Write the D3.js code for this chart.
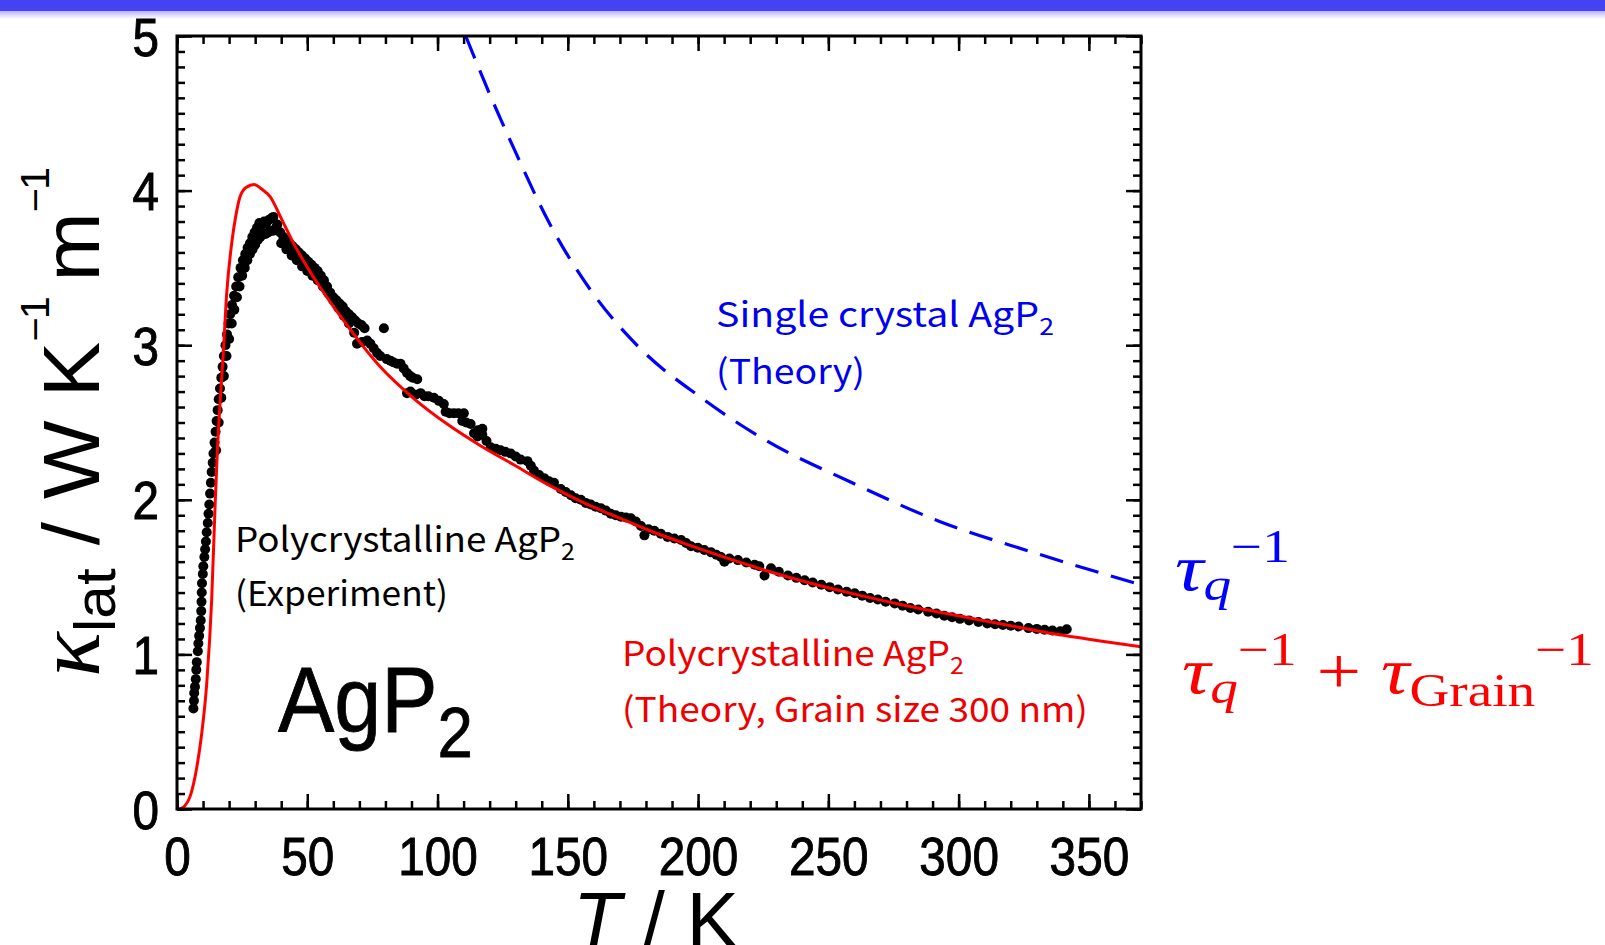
<!DOCTYPE html>
<html>
<head>
<meta charset="utf-8">
<script src="https://cdn.jsdelivr.net/npm/d3@7"></script>
<style>
  body { margin: 0; background: #fff; overflow: hidden; }
</style>
</head>
<body>
<svg id="chart" width="1605" height="945"></svg>
<script>
// ---- data ----
const xTicks = [0, 50, 100, 150, 200, 250, 300, 350];
const yTicks = [0, 1, 2, 3, 4, 5];

// experiment: [T (K), kappa_lat]
const expPoints = [
  [6.3,0.65],[6.5,0.70],[6.6,0.75],[6.9,0.79],[7.2,0.84],[7.4,0.90],[7.6,0.95],[8.0,1.02],[8.2,1.07],[8.5,1.12],
  [8.8,1.17],[9.1,1.22],[9.3,1.28],[9.4,1.34],[9.5,1.40],[9.6,1.46],[9.9,1.52],[10.1,1.57],[10.5,1.63],[10.8,1.68],
  [11.1,1.73],[11.4,1.79],[11.8,1.85],[12.1,1.91],[12.4,1.97],[12.7,2.04],[13.0,2.11],[13.3,2.18],[13.7,2.24],[14.0,2.30],
  [14.4,2.37],[14.8,2.44],[15.2,2.51],[15.6,2.58],[16.0,2.65],[16.5,2.72],[17.0,2.79],[17.5,2.86],[18.0,2.93],[18.6,3.00],
  [19.2,3.07],[19.8,3.14],[20.4,3.20],[21.1,3.26],[21.9,3.32],[22.7,3.38],[23.5,3.44],[24.4,3.50],[25.3,3.55],[26.2,3.59],
  [27.1,3.63],[28.0,3.66],[28.9,3.70],[29.8,3.73],[30.7,3.76],[31.6,3.79],[32.5,3.78],[33.4,3.80],[34.3,3.79],[35.2,3.81],
  [36.1,3.82],[37.0,3.83],
  [15.0,2.32],[16.0,2.50],[17.0,2.66],[18.0,2.80],[19.0,2.93],[20.0,3.04],[21.0,3.14],[22.0,3.23],[23.0,3.31],[24.0,3.38],
  [25.0,3.45],[26.0,3.50],[27.0,3.55],[28.0,3.59],[29.0,3.62],[30.0,3.65],[31.0,3.68],[32.0,3.70],[33.0,3.72],[34.0,3.72],
  [35.0,3.73],[36.0,3.74],[37.0,3.74],[38.0,3.76],
  [38.5,3.78],[39.6,3.73],[40.8,3.70],[42.0,3.68],[43.2,3.66],[44.4,3.64],[45.6,3.62],[46.8,3.60],[48.0,3.58],[49.2,3.56],
  [50.4,3.54],[51.6,3.52],[52.8,3.50],[54.0,3.48],[55.2,3.45],[56.4,3.42],[57.6,3.38],[58.8,3.34],[60.0,3.31],[61.2,3.29],
  [62.4,3.27],[63.6,3.25],[64.8,3.22],[66.0,3.20],[67.2,3.18],[68.4,3.16],[69.6,3.14],[70.8,3.13],[72.0,3.11],
  [40,3.66],[42,3.62],[44,3.58],[46,3.55],[48,3.51],[50,3.48],[52,3.45],[54,3.42],[56,3.38],[58,3.34],
  [60,3.29],[62,3.24],[64,3.19],[66,3.14],[68,3.08],[69.1,3.01],[71,3.02],[73,3.03],[74.2,3.01],[75.5,2.98],
  [76.8,2.95],[78,2.93],[79.4,3.11],[80.5,2.91],[81.9,2.90],[83,2.89],[84.5,2.88],[85.8,2.88],[87,2.85],[88.3,2.82],
  [89.5,2.80],[90.5,2.79],[92.2,2.78],[88.3,2.69],[89.6,2.70],[91.5,2.68],[93.5,2.69],[95,2.67],[96.5,2.67],[98.6,2.66],[100.5,2.64],
  [102.4,2.62],[103.1,2.57],[104.6,2.56],[106.3,2.56],[108,2.56],[110.1,2.56],[109.5,2.51],[111,2.50],[112.7,2.49],[114,2.43],
  [115.5,2.45],[117.2,2.46],[115.3,2.41],[117.2,2.42],[118.8,2.38],[120.4,2.34],[122.3,2.33],[124.2,2.32],[126,2.31],[128.1,2.30],[130,2.28],
  [131.9,2.26],[134.5,2.25],[135.8,2.22],[137,2.19],[139,2.16],[140.9,2.14],[142.8,2.12],[144.7,2.11],[147.3,2.07],[149.2,2.05],
  [151.2,2.03],[153,2.01],[155,2.00],[156.9,1.98],[158.8,1.97],[160.7,1.955],[162.7,1.945],[164.6,1.93],[166.5,1.91],[168.4,1.90],
  [170.4,1.89],[172.3,1.885],[174.2,1.88],[176.1,1.86],[178.1,1.83],[179.4,1.77],[181,1.81],[183.2,1.80],[185.7,1.78],[188.3,1.76],
  [190.9,1.75],[193.5,1.74],[195.4,1.72],[197.3,1.70],[199.9,1.69],[202.4,1.675],[205,1.66],[207,1.645],[208.8,1.63],[210.1,1.60],
  [212,1.62],[215.3,1.61],[218.5,1.595],[221.7,1.58],[223.5,1.57],[225.5,1.51],[228,1.557],[231,1.535],[234.5,1.51],[237.7,1.495],
  [240.9,1.48],[244,1.465],[247.3,1.45],[250.5,1.435],[253.7,1.42],[257,1.405],[260.1,1.395],[263,1.38],[266,1.365],[269,1.355],
  [272,1.34],[275.5,1.33],[278.5,1.315],[281.5,1.30],[284.5,1.29],[288.3,1.276],[291.5,1.265],[294.5,1.25],[297.5,1.24],[300.5,1.23],
  [304,1.22],[307.6,1.21],[311,1.20],[314,1.195],[317,1.19],[320,1.185],[323,1.18],[326.8,1.17],[330,1.165],[333,1.16],
  [336,1.155],[339,1.15],[341.5,1.163]
];

// theory, polycrystal (grain 300 nm)
const redT = [1, 3, 5, 7.6, 9.5, 11.4, 13.3, 14.6, 15.5, 16.5, 17.6, 19.1, 21, 22.5, 24.2, 26.5, 29.6, 32.5, 35.8, 40,
  44.7, 52.4, 63.9, 78, 90.9, 103.7, 116.5, 129.4, 142.2, 155, 166.5, 183, 196, 208, 221.7, 240, 260.1, 280, 300, 320,
  339.6, 355, 370];
const redK = [0, 0.02, 0.08, 0.27, 0.49, 0.81, 1.35, 1.95, 2.32, 2.62, 2.9, 3.34, 3.66, 3.83, 3.96, 4.02, 4.04, 4.01, 3.96, 3.82,
  3.66, 3.44, 3.16, 2.86, 2.655, 2.49, 2.35, 2.225, 2.1, 1.99, 1.905, 1.79, 1.71, 1.64, 1.565, 1.475, 1.39, 1.315, 1.25, 1.185,
  1.125, 1.085, 1.05];

// theory, single crystal
const blueT = [110.8, 118.6, 129.9, 142.9, 158.6, 177.7, 200.4, 226.5, 257.9, 292.7, 327.6, 370];
const blueK = [5.0, 4.68, 4.25, 3.79, 3.36, 2.98, 2.67, 2.38, 2.12, 1.86, 1.665, 1.45];

// ---- layout ----
const margin = { top: 36, left: 177 };
const plotW = 964, plotH = 773;
const svg = d3.select('#chart');

// banner strip at the top
const defs = svg.append('defs');
const grad = defs.append('linearGradient').attr('id', 'fade').attr('x1', 0).attr('x2', 0).attr('y1', 0).attr('y2', 1);
grad.append('stop').attr('offset', '0%').attr('stop-color', '#b9b2ff');
grad.append('stop').attr('offset', '100%').attr('stop-color', '#ffffff');
svg.append('rect').attr('x', 0).attr('y', 0).attr('width', 1605).attr('height', 11).attr('fill', '#4741f4');
svg.append('rect').attr('x', 0).attr('y', 11).attr('width', 1605).attr('height', 8).attr('fill', 'url(#fade)');

defs.append('clipPath').attr('id', 'plotClip')
  .append('rect').attr('x', margin.left).attr('y', margin.top).attr('width', plotW).attr('height', plotH);

const x = d3.scaleLinear().domain([0, 370]).range([margin.left, margin.left + plotW]);
const y = d3.scaleLinear().domain([0, 5]).range([margin.top + plotH, margin.top]);

const tickFont = 'Liberation Sans, Arial, sans-serif';
const sx = 0.9;

function styleAxis(g) {
  g.select('.domain').remove();
  g.selectAll('line').attr('stroke', '#000').attr('stroke-width', 2.5);
}

// minor ticks, all four sides, pointing inward
const minorX = d3.range(0, 371, 10);
const minorY = d3.range(0, 5.001, 0.1);
svg.append('g').attr('transform', `translate(0,${y(0)})`)
  .call(d3.axisBottom(x).tickValues(minorX).tickSize(-8).tickFormat('')).call(styleAxis);
svg.append('g').attr('transform', `translate(0,${y(5)})`)
  .call(d3.axisTop(x).tickValues(minorX).tickSize(-8).tickFormat('')).call(styleAxis);
svg.append('g').attr('transform', `translate(${x(0)},0)`)
  .call(d3.axisLeft(y).tickValues(minorY).tickSize(-8).tickFormat('')).call(styleAxis);
svg.append('g').attr('transform', `translate(${x(370)},0)`)
  .call(d3.axisRight(y).tickValues(minorY).tickSize(-8).tickFormat('')).call(styleAxis);

// major ticks
const xAxis = svg.append('g').attr('transform', `translate(0,${y(0)})`)
  .call(d3.axisBottom(x).tickValues(xTicks).tickSize(-15).tickFormat(d3.format('d')));
xAxis.call(styleAxis);
xAxis.selectAll('text')
  .attr('y', 66).attr('dy', 0)
  .attr('font-family', tickFont).attr('font-size', 53).attr('fill', '#000')
  .attr('stroke', '#000').attr('stroke-width', 0.9)
  .attr('transform', `scale(${sx},1)`);

const yAxis = svg.append('g').attr('transform', `translate(${x(0)},0)`)
  .call(d3.axisLeft(y).tickValues(yTicks).tickSize(-15).tickFormat(d3.format('d')));
yAxis.call(styleAxis);
yAxis.selectAll('text')
  .attr('x', -18 / sx).attr('dy', '0.36em')
  .attr('font-family', tickFont).attr('font-size', 53).attr('fill', '#000')
  .attr('stroke', '#000').attr('stroke-width', 0.9)
  .attr('transform', `scale(${sx},1)`);

svg.append('g').attr('transform', `translate(0,${y(5)})`)
  .call(d3.axisTop(x).tickValues(xTicks).tickSize(-15).tickFormat('')).call(styleAxis);
svg.append('g').attr('transform', `translate(${x(370)},0)`)
  .call(d3.axisRight(y).tickValues(yTicks).tickSize(-15).tickFormat('')).call(styleAxis);

// ---- data marks ----
const plot = svg.append('g').attr('clip-path', 'url(#plotClip)');

plot.append('g').selectAll('circle')
  .data(expPoints)
  .enter().append('circle')
  .attr('cx', d => x(d[0]))
  .attr('cy', d => y(d[1]))
  .attr('r', 5)
  .attr('fill', '#000');

const line = d3.line().x(d => x(d[0])).y(d => y(d[1])).curve(d3.curveMonotoneX);

plot.append('path')
  .datum(redT.map((t, i) => [t, redK[i]]))
  .attr('d', line)
  .attr('fill', 'none').attr('stroke', '#ff0000').attr('stroke-width', 3);

plot.append('path')
  .datum(blueT.map((t, i) => [t, blueK[i]]))
  .attr('d', line)
  .attr('fill', 'none').attr('stroke', '#0000ff').attr('stroke-width', 3.2)
  .attr('stroke-dasharray', '24 13');

// frame
svg.append('rect')
  .attr('x', margin.left).attr('y', margin.top).attr('width', plotW).attr('height', plotH)
  .attr('fill', 'none').attr('stroke', '#000').attr('stroke-width', 3);

// ---- text ----
// squeeze/stretch a text horizontally so it spans the given width
function placeText(px, py, width, build, extra) {
  const g = svg.append('g');
  const t = g.append('text').attr('x', 0).attr('y', 0);
  build(t);
  const w = t.node().getBBox().width;
  g.attr('transform', `translate(${px},${py})${extra || ''} scale(${width / w},1)`);
  return t;
}

const noteFont = '"Noto Sans CJK JP", "Noto Sans", sans-serif';

function note(px, py, width, color, main, sub) {
  placeText(px, py, width, t => {
    t.attr('font-family', noteFont).attr('font-size', 34).attr('fill', color);
    t.append('tspan').text(main);
    if (sub) t.append('tspan').attr('font-size', 23).attr('dy', 8).text(sub);
  });
}

note(235, 552, 340, '#000', 'Polycrystalline AgP', '2');
note(235, 606, 213, '#000', '(Experiment)');
note(716, 327, 338, '#0000ee', 'Single crystal AgP', '2');
note(716, 384, 149, '#0000ee', '(Theory)');
note(622, 666, 342, '#ee0000', 'Polycrystalline AgP', '2');
note(622, 722, 466, '#ee0000', '(Theory, Grain size 300 nm)');

// big compound name
placeText(278, 732, 195, t => {
  t.attr('font-family', tickFont).attr('font-size', 93).attr('fill', '#000')
    .attr('stroke', '#000').attr('stroke-width', 0.8);
  t.append('tspan').text('AgP');
  t.append('tspan').attr('font-size', 70).attr('dy', 25).text('2');
});

// scattering-rate labels
const mathFont = '"Liberation Serif", "DejaVu Serif", serif';
placeText(1175, 590, 115, t => {
  t.attr('font-family', mathFont).attr('font-size', 66).attr('fill', '#0000ff');
  t.append('tspan').attr('font-style', 'italic').text('τ');
  t.append('tspan').attr('font-style', 'italic').attr('font-size', 46).attr('dy', 10).text('q');
  t.append('tspan').attr('font-size', 46).attr('dy', -38).text('−1');
});
placeText(1182, 693, 412, t => {
  t.attr('font-family', mathFont).attr('font-size', 66).attr('fill', '#ff0000');
  t.append('tspan').attr('font-style', 'italic').text('τ');
  t.append('tspan').attr('font-style', 'italic').attr('font-size', 46).attr('dy', 10).text('q');
  t.append('tspan').attr('font-size', 46).attr('dy', -38).text('−1');
  t.append('tspan').attr('dy', 28).text(' + ');
  t.append('tspan').attr('font-style', 'italic').text('τ');
  t.append('tspan').attr('font-size', 46).attr('dy', 13).text('Grain');
  t.append('tspan').attr('font-size', 46).attr('dy', -41).text('−1');
});

// axis titles
placeText(99, 423, 509, t => {
  t.attr('font-family', tickFont).attr('font-size', 80).attr('fill', '#000');
  t.append('tspan').attr('font-family', mathFont).attr('font-style', 'italic').attr('font-size', 90).text('κ');
  t.append('tspan').attr('font-size', 58).attr('dy', 16).text('lat');
  t.append('tspan').attr('dy', -16).text(' / W K');
  t.append('tspan').attr('font-size', 40).attr('dy', -50).attr('letter-spacing', -2).text('−1');
  t.append('tspan').attr('dy', 50).text('\u2009m');
  t.append('tspan').attr('font-size', 40).attr('dy', -50).attr('letter-spacing', -2).text('−1');
  t.attr('text-anchor', 'middle');
}, ' rotate(-90)');

placeText(656, 948, 166, t => {
  t.attr('text-anchor', 'middle').attr('font-family', tickFont).attr('font-size', 80).attr('fill', '#000');
  t.append('tspan').attr('font-style', 'italic').text('T');
  t.append('tspan').text(' / K');
});
</script>
</body>
</html>
